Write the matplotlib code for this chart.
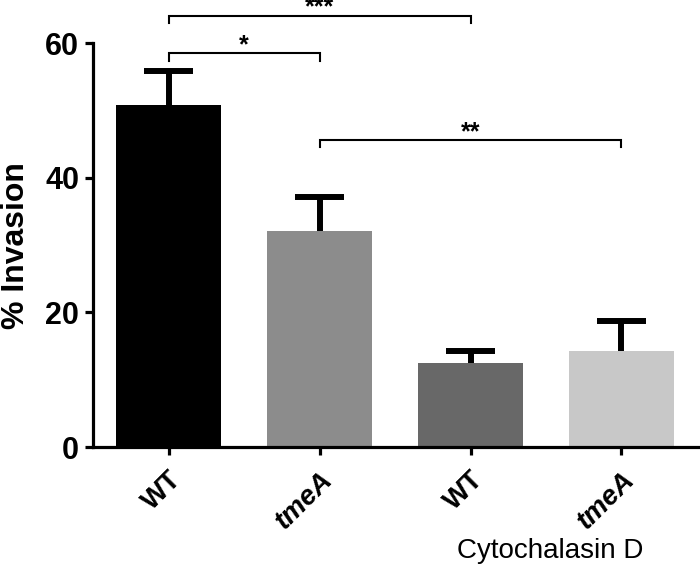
import numpy as np
import matplotlib
matplotlib.use("Agg")
import matplotlib.pyplot as plt

plt.rcParams["font.family"] = ["Liberation Sans", "DejaVu Sans"]

# data
groups = ["WT", "tmeA", "WT", "tmeA"]
invasion = [50.8, 32.1, 12.5, 14.2]
sem = [5.0, 5.1, 1.8, 4.5]
bar_colors = ["#000000", "#8c8c8c", "#686868", "#c8c8c8"]

# significance brackets: (left bar, right bar, height, label)
brackets = [(0, 2, 64.1, "***"), (0, 1, 58.5, "*"), (1, 3, 45.6, "**")]

fig = plt.figure(figsize=(7, 5.68), dpi=100)
ax = fig.add_axes([0.133, 0.213, 0.867, 0.711])

x = np.arange(len(groups))
ax.bar(x, invasion, width=0.7, color=bar_colors, zorder=2)

# upper-only error bars
top = np.array(invasion) + np.array(sem)
ax.vlines(x, invasion, top, color="black", lw=4.3, zorder=3)
ax.hlines(top, x - 0.165, x + 0.165, color="black", lw=4.3, zorder=3)

for a, b, h, lab in brackets:
    ax.plot([a, a, b, b], [h - 1.1, h, h, h - 1.1], color="black", lw=1.5,
            clip_on=False, solid_joinstyle="miter")
    ax.text((a + b) / 2, h - 0.6, lab, ha="center", va="bottom",
            fontsize=18, fontweight="bold", clip_on=False)

ax.set_xlim(-0.5, 3.52)
ax.set_ylim(0, 60)
ax.set_yticks([0, 20, 40, 60])
ax.set_xticks(x)
ax.set_xticklabels(groups, rotation=45, ha="right", rotation_mode="anchor",
                   fontsize=20, fontweight="bold")
for i, t in enumerate(ax.get_xticklabels()):
    if groups[i] == "tmeA":
        t.set_fontstyle("italic")
for t in ax.get_yticklabels():
    t.set_fontsize(22)
    t.set_fontweight("bold")

ax.spines["top"].set_visible(False)
ax.spines["right"].set_visible(False)
ax.spines["left"].set_linewidth(2.3)
ax.spines["bottom"].set_linewidth(2.3)
ax.tick_params(axis="both", width=2.3, length=6, direction="out")
ax.tick_params(axis="x", pad=8)
ax.tick_params(axis="y", pad=4)

ax.set_ylabel("% Invasion", fontsize=23, fontweight="bold", labelpad=10)

fig.text(0.786, 0.03, "Cytochalasin D", ha="center", va="center", fontsize=20)

fig.savefig("out.png", dpi=100)
